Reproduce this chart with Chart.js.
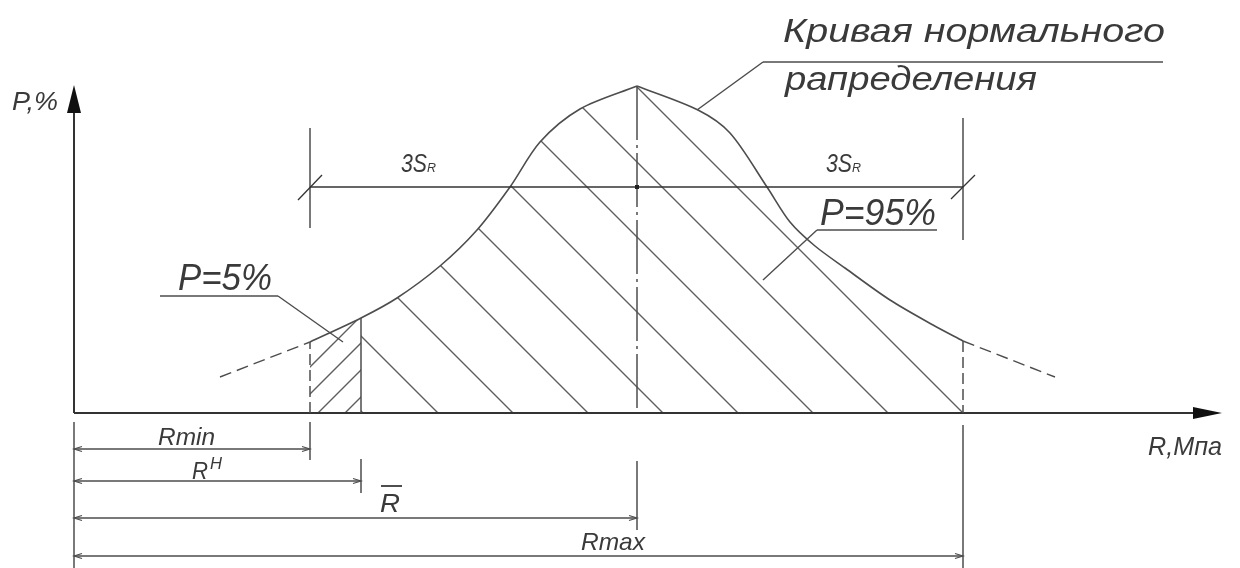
<!DOCTYPE html>
<html><head><meta charset="utf-8">
<script src="https://cdn.jsdelivr.net/npm/chart.js@4/dist/chart.umd.min.js"></script>
<style>html,body{margin:0;padding:0;background:#fff;}canvas{display:block;}</style>
</head><body>
<canvas id="c" width="1240" height="568"></canvas>
<script>
// ---- Data (drawing units, origin at axes crossing) ----
const R_CURVE_LEFT  = [236, 287, 323, 366, 403, 436, 466, 506, 563];
const P_CURVE_LEFT  = [71, 95, 115, 147, 183, 226, 271, 304, 327];
const R_CURVE_RIGHT = [563, 624, 656, 693, 716, 741, 771, 816, 859, 889];
const P_CURVE_RIGHT = [327, 303, 280, 226, 191, 167, 145, 113, 88, 72];
const R_TAIL_LEFT   = [146, 236];
const P_TAIL_LEFT   = [36, 71];
const R_TAIL_RIGHT  = [889, 981];
const P_TAIL_RIGHT  = [72, 36];
const R_MIN = 236, R_NORM = 287, R_MEAN = 563, R_MAX = 889;
const R_AXIS_END = 1148, P_AXIS_END = 328;

// ---- Texts ----
const TITLE_LINES = ['Кривая нормального', 'рапределения'];
const AXIS_TITLES = ['P,%', 'R,Мпа'];
const PROB_LABELS = ['P=5%', 'P=95%'];
const SIGMA_LABEL = ['3S', 'R'];
const DIM_LABELS  = ['Rmin', 'R', 'Н', 'R', 'Rmax'];

// ---- Styles ----
const INK = '#3a3a3a', LINE = '#4d4d4d', HATCH = '#5e5e5e';
const FONT = '"Liberation Sans", "DejaVu Sans", sans-serif';

const pts = (rs, ps) => rs.map((r, i) => ({x: r, y: ps[i]}));
const lineDs = (data, extra) => Object.assign({
  data, borderColor: LINE, borderWidth: 1.6, pointRadius: 0, fill: false, tension: 0.3
}, extra || {});

const drawing = {
  id: 'drawing',
  beforeDatasetsDraw(chart) {
    const ctx = chart.ctx, xs = chart.scales.x, ys = chart.scales.y;
    const X = v => xs.getPixelForValue(v), Y = v => ys.getPixelForValue(v);
    const y0 = Y(0);
    const metas = [chart.getDatasetMeta(0), chart.getDatasetMeta(1)];
    metas.forEach(m => m.dataset.updateControlPoints(chart.chartArea, 'x'));
    const L = metas[0].data, Rr = metas[1].data;
    const curvePath = () => {
      ctx.beginPath();
      [L, Rr].forEach((arr, k) => {
        arr.forEach((p, i) => {
          if (i === 0) { if (k === 0) ctx.moveTo(p.x, p.y); else ctx.lineTo(p.x, p.y); return; }
          const q = arr[i - 1];
          ctx.bezierCurveTo(q.cp2x, q.cp2y, p.cp1x, p.cp1y, p.x, p.y);
        });
      });
      ctx.lineTo(Rr[Rr.length - 1].x, y0);
      ctx.lineTo(L[0].x, y0);
      ctx.closePath();
    };
    const hatch = (xa, xb, dir, c0, step) => {
      ctx.save();
      ctx.beginPath(); ctx.rect(xa, 0, xb - xa, y0); ctx.clip();
      curvePath(); ctx.clip();
      ctx.beginPath();
      for (let k = -40; k <= 40; k++) {
        const c = c0 + k * step;
        if (dir > 0) { ctx.moveTo(c, 0); ctx.lineTo(c + y0, y0); }
        else { ctx.moveTo(c, 0); ctx.lineTo(c - y0, y0); }
      }
      ctx.strokeStyle = HATCH; ctx.lineWidth = 1.4; ctx.stroke();
      ctx.restore();
    };
    hatch(X(R_NORM), X(R_MAX), 1, X(R_MAX) - y0, 75);
    hatch(X(R_MIN), X(R_NORM), -1, X(R_NORM) - 16 + y0, 27);
  },
  afterDatasetsDraw(chart) {
    const ctx = chart.ctx, xs = chart.scales.x, ys = chart.scales.y;
    const X = v => xs.getPixelForValue(v), Y = v => ys.getPixelForValue(v);
    const x0 = X(0), y0 = Y(0);
    const seg = (ax, ay, bx, by, color, w, dash) => {
      ctx.save(); ctx.beginPath(); ctx.setLineDash(dash || []);
      ctx.moveTo(ax, ay); ctx.lineTo(bx, by);
      ctx.strokeStyle = color || LINE; ctx.lineWidth = w || 1.5; ctx.stroke(); ctx.restore();
    };
    const text = (str, x, base, size, width) => {
      ctx.save();
      ctx.font = 'italic ' + size + 'px ' + FONT;
      const w = ctx.measureText(str).width;
      ctx.translate(x, base); ctx.scale(width / w, 1);
      ctx.fillStyle = INK; ctx.textAlign = 'left'; ctx.textBaseline = 'alphabetic';
      ctx.fillText(str, 0, 0); ctx.restore();
    };
    const pMin = P_CURVE_LEFT[R_CURVE_LEFT.indexOf(R_MIN)];
    const pNorm = P_CURVE_LEFT[R_CURVE_LEFT.indexOf(R_NORM)];
    const pPeak = Math.max(...P_CURVE_LEFT, ...P_CURVE_RIGHT);
    const pMax = P_CURVE_RIGHT[R_CURVE_RIGHT.indexOf(R_MAX)];

    // axes with arrows
    const axTop = Y(P_AXIS_END), axRight = X(R_AXIS_END);
    seg(x0, y0, x0, axTop + 27, '#333', 2);
    seg(x0, y0, axRight - 28, y0, '#333', 2);
    ctx.fillStyle = '#111';
    ctx.beginPath(); ctx.moveTo(x0, axTop); ctx.lineTo(x0 - 7, axTop + 28); ctx.lineTo(x0 + 7, axTop + 28); ctx.closePath(); ctx.fill();
    ctx.beginPath(); ctx.moveTo(axRight, y0); ctx.lineTo(axRight - 29, y0 - 6); ctx.lineTo(axRight - 29, y0 + 6); ctx.closePath(); ctx.fill();

    // verticals under the curve
    seg(X(R_MIN), y0, X(R_MIN), Y(pMin), LINE, 1.5, [11, 5]);
    seg(X(R_NORM), y0, X(R_NORM), Y(pNorm), LINE, 1.5);
    seg(X(R_MEAN), Y(pPeak), X(R_MEAN), y0, LINE, 1.5, [54, 5, 3, 5]);
    seg(X(R_MAX), Y(pMax), X(R_MAX), y0, LINE, 1.5, [11, 5]);

    // 3S dimension
    const sy = 187;
    seg(X(R_MIN), 128, X(R_MIN), 228, LINE, 1.5);
    seg(X(R_MAX), 118, X(R_MAX), 240, LINE, 1.5);
    seg(X(R_MIN), sy, X(R_MAX), sy, '#333', 1.6);
    seg(X(R_MIN) - 12, sy + 13, X(R_MIN) + 12, sy - 12, '#333', 1.3);
    seg(X(R_MAX) - 12, sy + 12, X(R_MAX) + 12, sy - 12, '#333', 1.3);
    ctx.fillStyle = '#222'; ctx.fillRect(X(R_MEAN) - 2, sy - 2, 4, 4);
    text(SIGMA_LABEL[0], 401, 172, 26, 26); text(SIGMA_LABEL[1], 427, 172, 13, 9);
    text(SIGMA_LABEL[0], 826, 172, 26, 26); text(SIGMA_LABEL[1], 852, 172, 13, 9);

    // extension lines below axis
    seg(x0, y0 + 9, x0, 568, LINE, 1.5);
    seg(X(R_MIN), y0 + 9, X(R_MIN), 460, LINE, 1.5);
    seg(X(R_NORM), 459, X(R_NORM), 493, LINE, 1.5);
    seg(X(R_MEAN), 461, X(R_MEAN), 530, LINE, 1.5);
    seg(X(R_MAX), y0 + 12, X(R_MAX), 568, LINE, 1.5);

    // dimension lines
    const dims = [[R_MIN, 449], [R_NORM, 481], [R_MEAN, 518], [R_MAX, 556]];
    dims.forEach(([r, y]) => {
      const xe = X(r);
      seg(x0, y, xe, y, LINE, 1.4);
      ctx.save(); ctx.strokeStyle = LINE; ctx.lineWidth = 1.2; ctx.beginPath();
      ctx.moveTo(x0 + 8, y - 2.5); ctx.lineTo(x0, y); ctx.lineTo(x0 + 8, y + 2.5);
      ctx.moveTo(xe - 8, y - 2.5); ctx.lineTo(xe, y); ctx.lineTo(xe - 8, y + 2.5);
      ctx.stroke(); ctx.restore();
    });
    text(DIM_LABELS[0], 158, 445, 24, 57);
    text(DIM_LABELS[1], 192, 479, 24, 16);
    text(DIM_LABELS[2], 210, 469, 16, 12);
    text(DIM_LABELS[3], 380, 512, 25, 20);
    seg(381, 486, 402, 486, INK, 1.8);
    text(DIM_LABELS[4], 581, 550, 24, 64);

    // axis titles
    text(AXIS_TITLES[0], 12, 110, 25, 46);
    text(AXIS_TITLES[1], 1148, 455, 25, 74);

    // probability labels with leaders
    text(PROB_LABELS[0], 178, 290, 36, 94);
    seg(160, 296, 278, 296, LINE, 1.4);
    seg(278, 296, 343, 342, LINE, 1.4);
    text(PROB_LABELS[1], 820, 225, 36, 116);
    seg(817, 230, 937, 230, LINE, 1.4);
    seg(817, 230, 763, 280, LINE, 1.4);

    // title with leader
    text(TITLE_LINES[0], 783, 42, 34, 382);
    seg(763, 62, 1163, 62, LINE, 1.4);
    seg(697, 110, 763, 62, LINE, 1.4);
    text(TITLE_LINES[1], 785, 90, 34, 252);
  }
};

new Chart(document.getElementById('c'), {
  type: 'line',
  data: {
    datasets: [
      lineDs(pts(R_CURVE_LEFT, P_CURVE_LEFT)),
      lineDs(pts(R_CURVE_RIGHT, P_CURVE_RIGHT)),
      lineDs(pts(R_TAIL_LEFT, P_TAIL_LEFT), {borderDash: [12, 6], borderWidth: 1.4, tension: 0}),
      lineDs(pts(R_TAIL_RIGHT, P_TAIL_RIGHT), {borderDash: [12, 6], borderWidth: 1.4, tension: 0})
    ]
  },
  options: {
    responsive: false, animation: false, devicePixelRatio: 1, events: [],
    layout: {padding: 0, autoPadding: false},
    scales: {
      x: {type: 'linear', display: false, min: -74, max: 1166},
      y: {type: 'linear', display: false, min: -155, max: 413}
    },
    plugins: {legend: {display: false}, tooltip: {enabled: false}}
  },
  plugins: [drawing]
});
</script>
</body></html>
